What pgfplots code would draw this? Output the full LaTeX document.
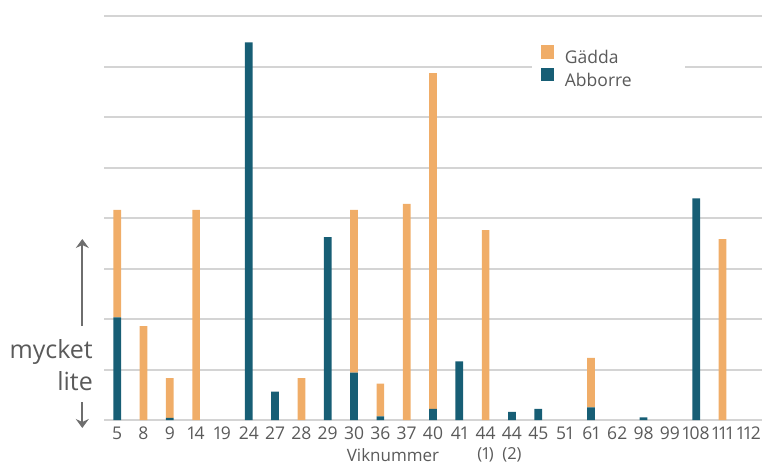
\documentclass[border=0pt]{standalone}
\usepackage{pgfplots}
\pgfplotsset{compat=1.18}
\usepackage{pgfplotstable}
\usepackage{fontspec}
\setmainfont[Numbers={Proportional,Lining}]{Open Sans}
\usetikzlibrary{arrows.meta}

\definecolor{gadda}{HTML}{F0AD68}
\definecolor{abborre}{HTML}{175E75}
\definecolor{gridgray}{HTML}{D4D4D4}
\definecolor{txtgray}{HTML}{5A5A5A}
\definecolor{arrowgray}{HTML}{6E6E6E}

\pgfplotsset{
  squarepatch/.style={
    legend image code/.code={\fill[##1] (0pt,0.7pt) rectangle (13pt,14pt);}
  }
}

% catch per week: perch (abborre) at the bottom, pike (gädda) stacked above
\pgfplotstableread{
idx abborre gadda
0  2.03 2.13
1  0    1.86
2  0.04 0.79
3  0    4.16
4  0    0
5  7.48 0
6  0.56 0
7  0    0.83
8  3.62 0
9  0.94 3.22
10 0.07 0.65
11 0    4.28
12 0.22 6.65
13 1.16 0
14 0    3.76
15 0.16 0
16 0.22 0
17 0    0
18 0.25 0.98
19 0    0
20 0.05 0
21 0    0
22 4.39 0
23 0    3.58
24 0    0
}\fangst

\begin{document}
\begin{tikzpicture}
\path[use as bounding box] (0pt,0pt) rectangle (767pt,464pt);
\begin{axis}[
  at={(104pt,44pt)}, anchor=south west,
  scale only axis, width=658pt, height=404pt,
  xmin=-0.5, xmax=24.5, ymin=0, ymax=8,
  ybar stacked, bar width=7.7pt,
  axis line style={draw=none},
  major tick length=0pt,
  ytick={0,...,8}, yticklabels={},
  ymajorgrids, grid style={gridgray, line width=2pt},
  xtick={0,...,24},
  xticklabels={5,8,9,14,19,24,27,28,29,30,36,37,40,41,
    {44\\[-1pt]{\fontsize{16.5}{19}\selectfont(1)}},
    {44\\[-1pt]{\fontsize{16.5}{19}\selectfont(2)}},
    45,51,61,62,98,99,108,111,112},
  xticklabel style={font=\fontsize{17.5}{21}\selectfont, text=txtgray,
    inner sep=0pt, yshift=-6.5pt, align=center},
  squarepatch,
  reverse legend,
  legend style={at={(axis description cs:0.650,0.935)}, anchor=north west,
    draw=none, fill=white, inner xsep=9pt, inner ysep=3pt,
    font=\fontsize{17.5}{20}\selectfont, text=txtgray,
    nodes={inner sep=0pt, text height=12pt, text depth=3pt},
    row sep=0.6pt,
    /tikz/every odd column/.append style={column sep=11pt},
    /tikz/every even column/.append style={text width=111pt}},
  legend cell align=left,
]
\addplot[fill=abborre, draw=none] table[x=idx, y=abborre] {\fangst};
\addlegendentry{Abborre}
\addplot[fill=gadda, draw=none] table[x=idx, y=gadda] {\fangst};
\addlegendentry{Gädda}
\end{axis}

% axis titles
\node[anchor=base, text=txtgray, font=\fontsize{17}{20}\selectfont, inner sep=0pt]
  at (393pt,3pt) {Viknummer};
\node[anchor=base east, text=txtgray, font=\fontsize{25}{30}\selectfont, inner sep=0pt]
  at (93pt,106pt) {mycket};
\node[anchor=base east, text=txtgray, font=\fontsize{25}{30}\selectfont, inner sep=0pt]
  at (93pt,74pt) {lite};
\draw[arrowgray, line width=1.8pt, -{Stealth[length=9pt, width=13pt, inset=3pt]}]
  (82.3pt,138pt) -- (82.3pt,225pt);
\draw[arrowgray, line width=1.8pt, -{Stealth[length=9pt, width=13pt, inset=3pt]}]
  (82.3pt,62pt) -- (82.3pt,36pt);
\end{tikzpicture}
\end{document}
